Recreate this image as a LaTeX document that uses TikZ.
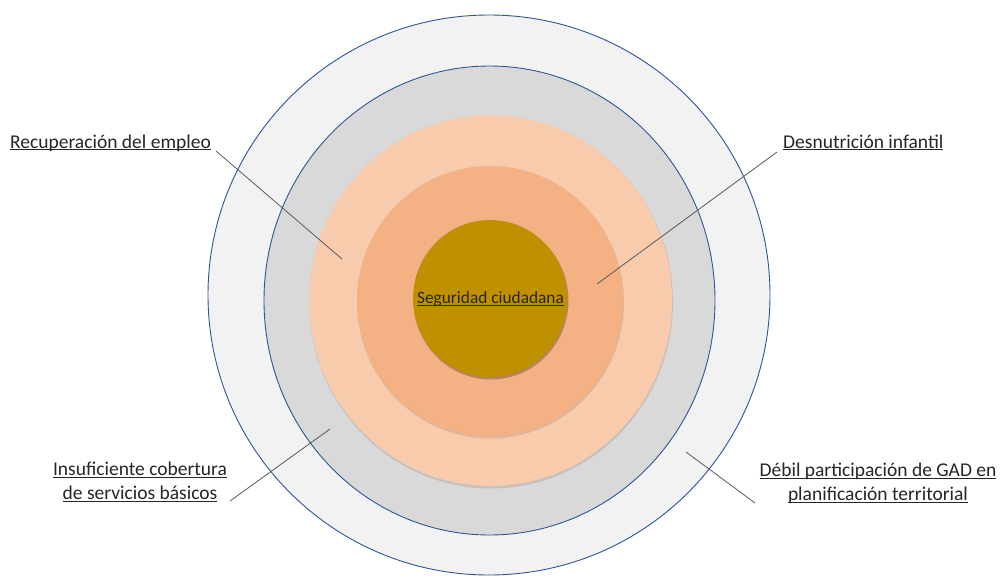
\documentclass[tikz,border=0pt]{standalone}
\usepackage{fontspec}
\usetikzlibrary{shapes.geometric}
\setmainfont{Carlito}
\definecolor{ringout}{HTML}{F2F2F2}
\definecolor{ringgray}{HTML}{D9D9D9}
\definecolor{peachlight}{HTML}{F8CBAD}
\definecolor{peachdark}{HTML}{F4B183}
\definecolor{gold}{HTML}{BF9000}
\definecolor{edgeblue}{HTML}{2F5597}
\definecolor{leader}{HTML}{595959}
\definecolor{txt}{HTML}{262626}
\newcommand\myul[1]{\setbox0\hbox{#1}\rlap{\rule[-2.2pt]{\wd0}{1pt}}\box0}
\begin{document}
\begin{tikzpicture}[x=1pt,y=-1pt,
  ring/.style 2 args={ellipse, inner sep=0pt, minimum width=#1, minimum height=#2},
  lbl/.style={font=\fontsize{19.5}{24}\selectfont, text=txt, inner sep=0pt, align=center},
  clbl/.style={font=\fontsize{17.3}{21}\selectfont, text=txt, inner sep=0pt},
  leadline/.style={draw=leader, line width=0.8pt}]
\useasboundingbox (0,0) rectangle (1001,581);
\fill[white] (0,0) rectangle (1001,581);
% rings
\node[ring={562pt}{560pt}, fill=ringout, draw=edgeblue, line width=0.9pt] (outer) at (489,295) {};
\node[ring={451pt}{469pt}, fill=ringgray, draw=edgeblue, line width=0.9pt] (gray) at (489.5,300.5) {};
\node[ring={364pt}{373pt}, fill=black, fill opacity=0.10] (shadowA) at (491,302) {};
\node[ring={363pt}{371pt}, fill=peachlight] (light) at (490.5,300.5) {};
\node[ring={267pt}{272pt}, fill=black, fill opacity=0.10] (shadowB) at (490.5,302.5) {};
\node[ring={266pt}{270pt}, fill=peachdark] (dark) at (490,301) {};
\node[ring={155pt}{158pt}, fill=black, fill opacity=0.25] (shadowC) at (491,300.5) {};
\node[ring={154pt}{157pt}, fill=gold] (core) at (490,298.5) {};
% labels
\node[clbl, anchor=base] (center) at (490.5,303.5) {\myul{Seguridad ciudadana}};
\node[lbl, anchor=base west] (emp) at (10,148) {\myul{Recuperación del empleo}};
\node[lbl, anchor=base west] (des) at (783,148) {\myul{Desnutrición infantil}};
\node[lbl, anchor=base] (ins) at (140,499.5) {\myul{Insuficiente cobertura}\\\myul{de servicios básicos}};
\node[lbl, anchor=base] (deb) at (878,500.5) {\myul{Débil participación de GAD en}\\\myul{planificación territorial}};
% leader end points
\coordinate (empA) at (216,151);
\coordinate (empB) at (342,259);
\coordinate (desA) at (777,152);
\coordinate (desB) at (597,284);
\coordinate (insA) at (230,501);
\coordinate (insB) at (330,429);
\coordinate (debA) at (755,503);
\coordinate (debB) at (686,452);
\draw[leadline] (empA) -- (empB);
\draw[leadline] (desA) -- (desB);
\draw[leadline] (insA) -- (insB);
\draw[leadline] (debA) -- (debB);
\end{tikzpicture}
\end{document}
